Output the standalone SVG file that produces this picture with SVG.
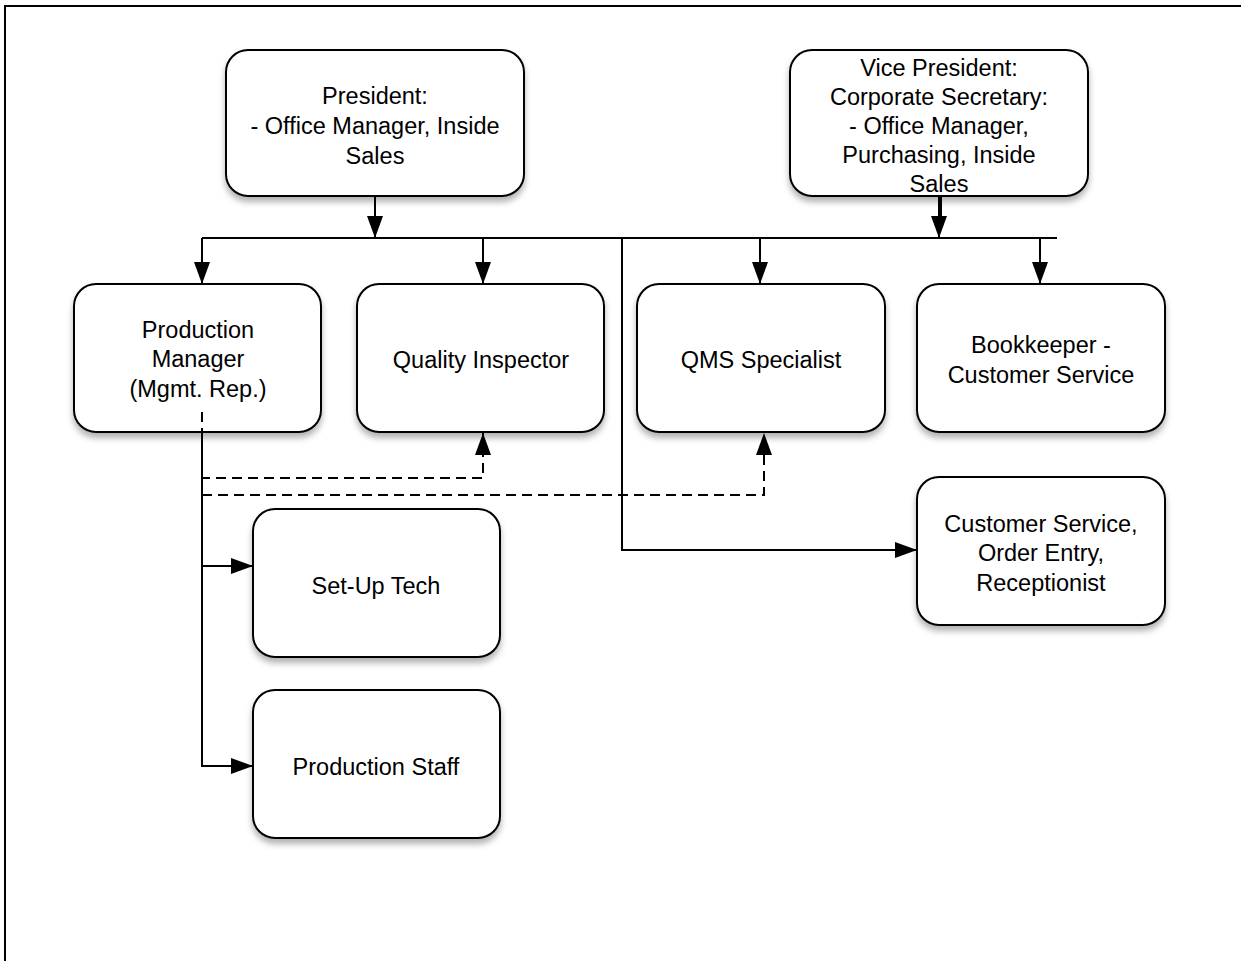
<svg xmlns="http://www.w3.org/2000/svg" width="1241" height="961" viewBox="0 0 1241 961">
<style>
.box{fill:#fff;stroke:#000;stroke-width:2;filter:url(#sh)}
.t{font-family:"Liberation Sans",Arial,sans-serif;font-size:23.5px;fill:#000;text-anchor:middle}
.c{fill:none;stroke:#000;stroke-width:2}
.d{fill:none;stroke:#000;stroke-width:2;stroke-dasharray:10 6}
</style>
<defs>
<filter id="sh" x="-10%" y="-10%" width="120%" height="130%">
<feDropShadow dx="0" dy="5" stdDeviation="3" flood-color="#000" flood-opacity="0.3"/>
</filter>
<marker id="a" viewBox="0 0 22 16" refX="22" refY="8" markerWidth="22" markerHeight="16" markerUnits="userSpaceOnUse" orient="auto">
<path d="M0,0 L22,8 L0,16 Z" fill="#000"/>
</marker>
</defs>
<rect x="5" y="6" width="1300" height="1000" fill="none" stroke="#000" stroke-width="2"/>
<g id="president">
<rect class="box" x="226" y="50" width="298" height="146" rx="22"/>
<text class="t" x="375" y="104">President:</text>
<text class="t" x="375" y="134">- Office Manager, Inside</text>
<text class="t" x="375" y="164">Sales</text>
</g>
<g id="vice-president">
<rect class="box" x="790" y="50" width="298" height="146" rx="22"/>
<text class="t" x="939" y="76">Vice President:</text>
<text class="t" x="939" y="105">Corporate Secretary:</text>
<text class="t" x="939" y="134">- Office Manager,</text>
<text class="t" x="939" y="163">Purchasing, Inside</text>
<text class="t" x="939" y="192">Sales</text>
</g>
<g id="production-manager">
<rect class="box" x="74" y="284" width="247" height="148" rx="22"/>
<text class="t" x="198" y="338">Production</text>
<text class="t" x="198" y="367">Manager</text>
<text class="t" x="198" y="397">(Mgmt. Rep.)</text>
</g>
<g id="quality-inspector">
<rect class="box" x="357" y="284" width="247" height="148" rx="22"/>
<text class="t" x="481" y="368">Quality Inspector</text>
</g>
<g id="qms-specialist">
<rect class="box" x="637" y="284" width="248" height="148" rx="22"/>
<text class="t" x="761" y="368">QMS Specialist</text>
</g>
<g id="bookkeeper">
<rect class="box" x="917" y="284" width="248" height="148" rx="22"/>
<text class="t" x="1041" y="353">Bookkeeper -</text>
<text class="t" x="1041" y="383">Customer Service</text>
</g>
<g id="customer-service">
<rect class="box" x="917" y="477" width="248" height="148" rx="22"/>
<text class="t" x="1041" y="532">Customer Service,</text>
<text class="t" x="1041" y="561">Order Entry,</text>
<text class="t" x="1041" y="591">Receptionist</text>
</g>
<g id="setup-tech">
<rect class="box" x="253" y="509" width="247" height="148" rx="22"/>
<text class="t" x="376" y="594">Set-Up Tech</text>
</g>
<g id="production-staff">
<rect class="box" x="253" y="690" width="247" height="148" rx="22"/>
<text class="t" x="376" y="775">Production Staff</text>
</g>
<g id="connectors">
<path class="c" d="M202,238 H1057"/>
<path class="c" d="M375,197 V238" marker-end="url(#a)"/>
<path class="c" d="M939,197 V238" marker-end="url(#a)"/>
<path class="c" d="M941,197 V225"/>
<path class="c" d="M202,238 V284" marker-end="url(#a)"/>
<path class="c" d="M483,238 V284" marker-end="url(#a)"/>
<path class="c" d="M760,238 V284" marker-end="url(#a)"/>
<path class="c" d="M1040,238 V284" marker-end="url(#a)"/>
<path class="c" d="M622,238 V550 H917" marker-end="url(#a)"/>
<path class="d" d="M202,412 V478 H483 V433" marker-end="url(#a)"/>
<path class="d" d="M202,495 H764 V433" marker-end="url(#a)"/>
<path class="c" d="M202,433 V766 H253" marker-end="url(#a)"/>
<path class="c" d="M202,566 H253" marker-end="url(#a)"/>
</g>
</svg>
